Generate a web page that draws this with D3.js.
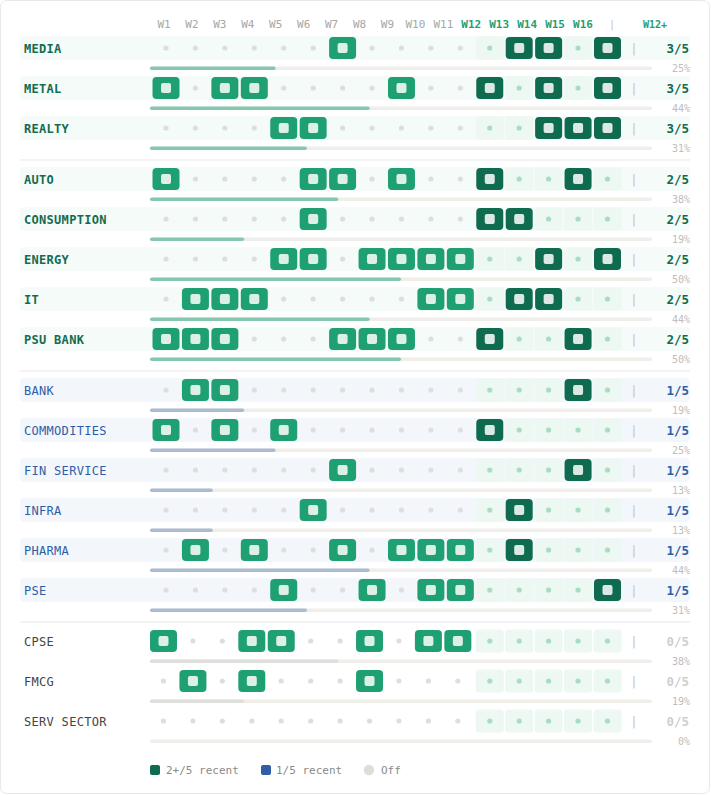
<!DOCTYPE html>
<html>
<head>
<meta charset="utf-8">
<script src="https://cdn.jsdelivr.net/npm/d3@7"></script>
<style>
  html, body { margin: 0; padding: 0; background: #ffffff; }
  svg { display: block; font-family: "DejaVu Sans Mono", "Liberation Mono", monospace; }
</style>
</head>
<body>
<svg id="chart" width="711" height="795"></svg>
<script>
// ---- data ----
const weeks = ["W1","W2","W3","W4","W5","W6","W7","W8","W9","W10","W11","W12","W13","W14","W15","W16"];
const recentWeeks = ["W12","W13","W14","W15","W16"];
const sectors = ["MEDIA","METAL","REALTY","AUTO","CONSUMPTION","ENERGY","IT","PSU BANK",
  "BANK","COMMODITIES","FIN SERVICE","INFRA","PHARMA","PSE","CPSE","FMCG","SERV SECTOR"];
const activeWeeks = [
  ["W7","W13","W14","W16"],
  ["W1","W3","W4","W9","W12","W14","W16"],
  ["W5","W6","W14","W15","W16"],
  ["W1","W6","W7","W9","W12","W15"],
  ["W6","W12","W13"],
  ["W5","W6","W8","W9","W10","W11","W14","W16"],
  ["W2","W3","W4","W10","W11","W13","W14"],
  ["W1","W2","W3","W7","W8","W9","W12","W15"],
  ["W2","W3","W15"],
  ["W1","W3","W5","W12"],
  ["W7","W15"],
  ["W6","W13"],
  ["W2","W4","W7","W9","W10","W11","W13"],
  ["W5","W8","W10","W11","W16"],
  ["W1","W4","W5","W8","W10","W11"],
  ["W2","W4","W8"],
  []
];
const legendLabels = ["2+/5 recent", "1/5 recent", "Off"];

// ---- styles ----
const C = {
  darkGreen: "#0f6b50", midGreen: "#1fa073", greenLabel: "#136b50",
  blue: "#2d5ea6", grey: "#444", dot: "#dedede", recentDot: "#a9dcc6",
  recentCell: "#edf8f3", bgGreen: "#f5fbf8", bgBlue: "#f3f7fc",
  track: "#efeee9", fillGreen: "#86c8ad", fillBlue: "#aabbd2", fillGrey: "#dededa",
  innerMid: "#dcf0e8", innerDark: "#dbe8e4", sep: "#e8e8e8"
};

const svg = d3.select("#chart");
svg.append("rect").attr("x", 0.5).attr("y", 0.5).attr("width", 709).attr("height", 793)
  .attr("rx", 6).attr("fill", "#fff").attr("stroke", "#e8e8e8");

const x = d3.scalePoint().domain(weeks).range([166, 607.5]);
const xh = d3.scalePoint().domain(weeks).range([164, 583]);
const bar = d3.scaleLinear().domain([0, 1]).range([150, 652]);

const rows = sectors.map((s, i) => {
  const set = new Set(activeWeeks[i]);
  const recent = recentWeeks.filter(w => set.has(w)).length;
  return { name: s, set, recent, pct: activeWeeks[i].length / weeks.length,
    tier: recent >= 2 ? (recent >= 3 ? 0 : 1) : (recent === 1 ? 2 : 3) };
});

// vertical layout
let yy = 48, prevTier = null;
const seps = [];
rows.forEach((r, i) => {
  if (prevTier !== null && r.tier !== prevTier) { seps.push(yy - 40 + 32); yy += 11; }
  r.y = yy; prevTier = r.tier; yy += 40;
});

// header
const hdr = svg.append("g");
hdr.selectAll("text.wk").data(weeks).join("text")
  .attr("x", d => xh(d)).attr("y", 28).attr("text-anchor", "middle")
  .attr("font-size", 11)
  .attr("font-weight", d => recentWeeks.includes(d) ? "bold" : "normal")
  .attr("fill", d => recentWeeks.includes(d) ? C.midGreen : "#a6a6a6")
  .text(d => d);
hdr.append("text").attr("x", 612).attr("y", 28).attr("text-anchor", "middle")
  .attr("font-size", 11).attr("fill", "#c8c8c8").text("|");
hdr.append("text").attr("x", 655).attr("y", 28).attr("text-anchor", "middle")
  .attr("font-size", 10).attr("font-weight", "bold").attr("fill", C.midGreen).text("W12+");

// separators
svg.selectAll("line.sep").data(seps).join("line")
  .attr("x1", 20).attr("x2", 690).attr("y1", d => d).attr("y2", d => d)
  .attr("stroke", C.sep).attr("stroke-width", 1.2);

const labelColor = t => t <= 1 ? C.greenLabel : (t === 2 ? C.blue : C.grey);
const fillColor = t => t <= 1 ? C.fillGreen : (t === 2 ? C.fillBlue : C.fillGrey);

const g = svg.selectAll("g.row").data(rows).join("g").attr("class", "row");

g.filter(d => d.tier < 3).append("rect")
  .attr("x", 20).attr("y", d => d.y - 12).attr("width", 670).attr("height", 24).attr("rx", 4)
  .attr("fill", d => d.tier === 2 ? C.bgBlue : C.bgGreen);

g.append("text").attr("x", 24).attr("y", d => d.y + 4.5)
  .attr("font-size", 12).attr("letter-spacing", 0.3)
  .attr("font-weight", d => d.tier <= 1 ? "bold" : "normal")
  .attr("fill", d => labelColor(d.tier)).text(d => d.name);

// cells
g.each(function(r) {
  const sel = d3.select(this);
  const off = r.tier === 3 ? -2.5 : 0;
  weeks.forEach(w => {
    const isRecent = recentWeeks.includes(w);
    const cx = x(w) + (isRecent ? 0 : off);
    if (isRecent && !r.set.has(w)) {
      sel.append("rect").attr("x", cx - 14).attr("y", r.y - 11.5).attr("width", 28).attr("height", 23)
        .attr("rx", 3).attr("fill", C.recentCell);
    }
    if (r.set.has(w)) {
      sel.append("rect").attr("x", cx - 13.5).attr("y", r.y - 11).attr("width", 27).attr("height", 22)
        .attr("rx", 4).attr("fill", isRecent ? C.darkGreen : C.midGreen);
      sel.append("rect").attr("x", cx - 5).attr("y", r.y - 5).attr("width", 10).attr("height", 10)
        .attr("rx", 2).attr("fill", isRecent ? C.innerDark : C.innerMid);
    } else {
      sel.append("circle").attr("cx", cx).attr("cy", r.y).attr("r", 2.6)
        .attr("fill", isRecent ? C.recentDot : C.dot);
    }
  });
});

g.append("text").attr("x", 634).attr("y", d => d.y + 5).attr("text-anchor", "middle")
  .attr("font-size", 13).attr("fill", "#c8c8c8").text("|");
g.append("text").attr("x", 689).attr("y", d => d.y + 4.5).attr("text-anchor", "end")
  .attr("font-size", 12.5).attr("font-weight", "bold")
  .attr("fill", d => d.tier <= 1 ? C.darkGreen : (d.tier === 2 ? C.blue : "#cfcfcf"))
  .text(d => d.recent + "/" + recentWeeks.length);

// progress bars
g.append("rect").attr("x", bar(0)).attr("y", d => d.y + 18.5).attr("width", bar(1) - bar(0))
  .attr("height", 3.5).attr("rx", 1.75).attr("fill", C.track);
g.append("rect").attr("x", bar(0)).attr("y", d => d.y + 18.5)
  .attr("width", d => bar(d.pct) - bar(0)).attr("height", 3.5).attr("rx", 1.75)
  .attr("fill", d => fillColor(d.tier));
g.append("text").attr("x", 690).attr("y", d => d.y + 23.5).attr("text-anchor", "end")
  .attr("font-size", 10).attr("fill", "#bdbdbd").text(d => Math.round(d.pct * 100) + "%");

// legend
const ly = 770;
const lg = svg.append("g").attr("font-size", 11).attr("fill", "#8a8a8a");
lg.append("rect").attr("x", 150).attr("y", ly - 5).attr("width", 10).attr("height", 10).attr("rx", 2).attr("fill", C.darkGreen);
lg.append("text").attr("x", 166).attr("y", ly + 4).text(legendLabels[0]);
lg.append("rect").attr("x", 261).attr("y", ly - 5).attr("width", 10).attr("height", 10).attr("rx", 2).attr("fill", C.blue);
lg.append("text").attr("x", 276).attr("y", ly + 4).text(legendLabels[1]);
lg.append("circle").attr("cx", 369).attr("cy", ly).attr("r", 5.2).attr("fill", "#dddddd");
lg.append("text").attr("x", 381).attr("y", ly + 4).text(legendLabels[2]);
</script>
</body>
</html>
